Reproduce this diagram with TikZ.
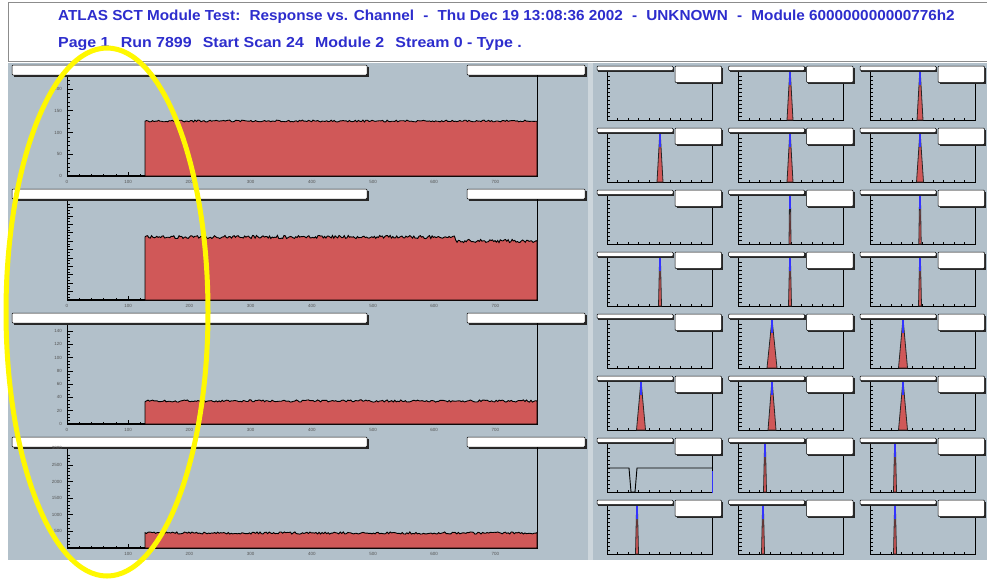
\documentclass[tikz,border=0pt]{standalone}
\usepackage{graphicx}
\usepackage{fontspec}
\setmainfont{Liberation Sans}
\definecolor{bggray}{RGB}{178,192,202}
\definecolor{stripgray}{RGB}{205,214,220}
\definecolor{histred}{RGB}{208,88,88}
\definecolor{hdrblue}{RGB}{45,45,205}
\definecolor{hiyellow}{RGB}{255,248,0}
\definecolor{lblgray}{RGB}{85,85,85}
\tikzset{
  frameline/.style={black, line width=0.9pt},
  barbox/.style={fill=white, draw=black, line width=0.5pt, rounded corners=1pt},
  barshadow/.style={fill=black!85},
  hist/.style={fill=histred, draw=black, line width=0.9pt},
  peakstyle/.style={fill=histred, draw=black!85, line width=0.8pt},
  tickline/.style={black, line width=0.7pt},
  ticklbl/.style={font=\fontsize{4.5}{5}\selectfont, text=lblgray, inner sep=0pt},
  hdrtext/.style={font=\fontsize{14.5}{16}\selectfont\bfseries, text=hdrblue, anchor=base west, inner sep=0pt},
  hdrframe/.style={draw=black!45, fill=white, line width=1pt},
  ring/.style={draw=hiyellow, line width=5pt}
}
% left panel frame: #1 = top offset
\newcommand\lpanel[1]{%
  \fill[barshadow] (13.5,{#1+3.5}) rectangle (368.5,{#1+13.5});
  \draw[barbox] (12,{#1+2}) rectangle (367,{#1+12});
  \fill[barshadow] (468.5,{#1+3.5}) rectangle (586.5,{#1+13.5});
  \draw[barbox] (467,{#1+2}) rectangle (585,{#1+12});
  \draw[frameline] (67,{#1+14}) -- (67,{#1+113}) -- (537,{#1+113}) -- (537,{#1+12});
  \foreach \k in {0,...,38}{\draw[tickline] ({67+\k*12.24},{#1+113}) -- ++(0,-2);}
  \foreach \k in {0,...,7}{\draw[tickline] ({67+\k*61.2},{#1+113}) -- ++(0,-4);}
  \foreach \k in {0,...,7}{\pgfmathtruncatemacro\lab{\k*100}%
    \node[ticklbl] (xl#1n\k) at ({67+\k*61.2},{#1+119}) {\lab};}
  \draw[black, line width=1pt] (67,{#1+112}) -- (145,{#1+112});
}
% y ticks: #1 bottom, #2 step, #3 count, #4 major every
\newcommand\yticks[4]{%
  \foreach \k in {0,...,#3}{%
    \pgfmathtruncatemacro\ismaj{mod(\k,#4)==0}%
    \ifnum\ismaj=1 \draw[tickline] (67,{#1-\k*#2}) -- ++(6,0);
    \else \draw[tickline] (67,{#1-\k*#2}) -- ++(3,0);\fi}
}
% small panel: #1 = X0, #2 = Y0
\newcommand\spanel[2]{%
  \fill[barshadow] ({#1+3},{#2+4}) rectangle ({#1+79},{#2+8.5});
  \draw[barbox] ({#1+2},{#2+3}) rectangle ({#1+78},{#2+7.5});
  \draw[frameline] ({#1+12},{#2+9}) -- ({#1+12},{#2+57}) -- ({#1+117},{#2+57}) -- ({#1+117},{#2+20});
  \foreach \k in {0,...,11}{\draw[tickline] ({#1+12},{#2+57-\k*4}) -- ++(3,0);}
  \foreach \k in {0,...,10}{\draw[tickline] ({#1+12+\k*10.5},{#2+57}) -- ++(0,-2);}
  \fill[barshadow] ({#1+81.5},{#2+4.5}) rectangle ({#1+128},{#2+21});
  \draw[barbox] ({#1+80},{#2+3}) rectangle ({#1+126.5},{#2+19.5});
}
% peak: #1 = x, #2 = row, #3 = half width
\newcommand\peak[3]{%
  \pgfmathsetmacro\Yp{63+62*#2}%
  \draw[peakstyle] ({#1-#3},{\Yp+57}) -- ({#1-0.5},{\Yp+13}) -- ({#1+0.5},{\Yp+13}) -- ({#1+#3},{\Yp+57}) -- cycle;
  \draw[blue!80, line width=1.2pt] (#1,{\Yp+9}) -- (#1,{\Yp+22});
}
\begin{document}
\begin{tikzpicture}[x=1pt,y=-1pt]
\useasboundingbox (0,0) rectangle (987,579);
\fill[white] (0,0) rectangle (987,579);
\begin{scope}
\clip (0,0) rectangle (987,579);
% header
\draw[hdrframe] (8,2) rectangle (1000,61);
\node[hdrtext] (title1) at (58,20) {\scalebox{1.055}[1]{ATLAS SCT Module Test:\hspace{0.6em}Response vs. Channel\hspace{0.6em}-\hspace{0.6em}Thu Dec 19 13:08:36 2002\hspace{0.6em}-\hspace{0.6em}UNKNOWN\hspace{0.6em}-\hspace{0.6em}Module 600000000000776h2}};
\node[hdrtext] (title2) at (58,47) {\scalebox{1.1}[1]{Page 1\hspace{0.7em}Run 7899\hspace{0.7em}Start Scan 24\hspace{0.7em}Module 2\hspace{0.7em}Stream 0 - Type .}};
% canvas
\fill[bggray] (8,63) rectangle (987,560);
\fill[stripgray] (588,63) rectangle (593,560);
% left panels
\foreach \T in {63,187,311,435}{\lpanel{\T}}
\pgfmathsetseed{7}
% panel 1
\draw[hist] (145,176) -- plot[domain=145:537, samples=260] (\x,{121+0.9*rand}) -- (537,176) -- cycle;
\yticks{176}{4.35}{22}{5}
\foreach \lab [count=\i from 0] in {0,50,100,150,200}{\node[ticklbl, anchor=east] (ya\i) at (62,{176-\i*21.75}) {\lab};}
% panel 2
\draw[hist] (145,300) -- plot[domain=145:537, samples=300] (\x,{237+(\x>455)*4+1.6*rand}) -- (537,300) -- cycle;
\yticks{300}{2.8}{34}{3}
% panel 3
\draw[hist] (145,424) -- plot[domain=145:537, samples=260] (\x,{401+1.1*rand}) -- (537,424) -- cycle;
\yticks{424}{3.32}{28}{4}
\foreach \lab [count=\i from 0] in {0,20,40,60,80,100,120,140}{\node[ticklbl, anchor=east] (yc\i) at (62,{424-\i*13.28}) {\lab};}
% panel 4
\draw[hist] (145,548) -- plot[domain=145:537, samples=260] (\x,{533+1.1*rand}) -- (537,548) -- cycle;
\yticks{548}{3.32}{28}{5}
\foreach \lab [count=\i from 1] in {500,1000,1500,2000,2500,3000}{\node[ticklbl, anchor=east] (yd\i) at (62,{548-\i*16.6}) {\lab};}
% right small panels
\foreach \c in {0,1,2}{\foreach \r in {0,...,7}{%
  \pgfmathsetmacro\X{595+131.5*\c}\pgfmathsetmacro\Y{63+62*\r}\spanel{\X}{\Y}}}
\foreach \px/\r/\hw in {790/0/3, 920/0/3, 660/1/3, 790/1/3, 920/1/3.5, 790/2/1, 920/2/1.2, 660/3/1.5, 790/3/1.5, 920/3/1.5, 772/4/5, 903/4/4.5, 641/5/4.5, 772/5/4, 903/5/4.5, 765/6/1.5, 895/6/1.5, 637/7/1.5, 763/7/1.5, 895/7/1.5}{\peak{\px}{\r}{\hw}}
% odd panel row 7 column 1
\draw[frameline] (607,468) -- (629,468) -- (631,492) -- (635,492) -- (637,468) -- (712,468);
\draw[blue!80, line width=1pt] (712,471) -- (712,493);
% highlight ring
\draw[ring] (107,312) ellipse [x radius=101, y radius=264];
\end{scope}
\end{tikzpicture}
\end{document}
